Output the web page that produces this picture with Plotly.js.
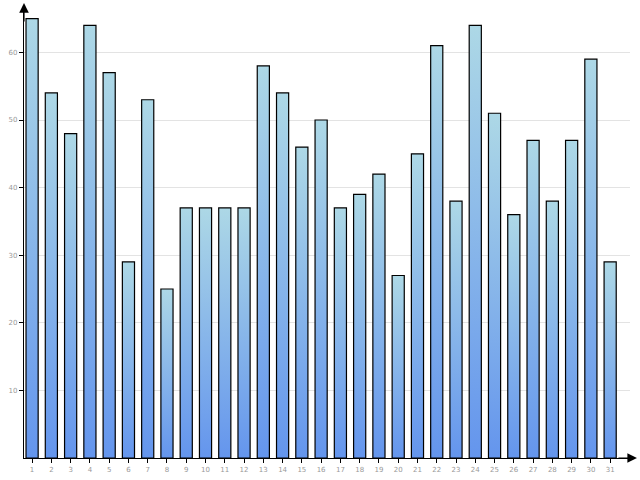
<!DOCTYPE html>
<html>
<head>
<meta charset="utf-8">
<script src="https://cdn.plot.ly/plotly-3.0.1.min.js"></script>
<style>html,body{margin:0;padding:0;background:#fff;}#chart{width:640px;height:480px;}</style>
</head>
<body>
<div id="chart"></div>
<script>
const categories = [1,2,3,4,5,6,7,8,9,10,11,12,13,14,15,16,17,18,19,20,21,22,23,24,25,26,27,28,29,30,31];
const values = [65,54,48,64,57,29,53,25,37,37,37,37,58,54,46,50,37,39,42,27,45,61,38,64,51,36,47,38,47,59,29];
const yTicks = [10,20,30,40,50,60];

const trace = {
  type: 'bar',
  x: categories,
  y: values,
  width: 0.63,
  marker: {color: '#8ab4e8', line: {color: '#000', width: 1.2}},
  hoverinfo: 'none'
};

const tickFont = {family: 'DejaVu Sans, Verdana, sans-serif', size: 7, color: '#999'};

const layout = {
  width: 640, height: 480,
  margin: {l: 24, r: 10, t: 8, b: 22},
  paper_bgcolor: '#fff', plot_bgcolor: '#fff',
  showlegend: false,
  bargap: 0.37,
  xaxis: {
    range: [0.58, 32.03],
    tickvals: categories, ticktext: categories.map(String),
    ticks: 'outside', ticklen: 4, tickcolor: '#000', tickwidth: 1,
    showgrid: false, zeroline: false,
    showline: true, linecolor: '#000', linewidth: 1.2,
    tickfont: tickFont
  },
  yaxis: {
    range: [0, 66.57],
    tickvals: yTicks, ticktext: yTicks.map(String),
    ticks: 'outside', ticklen: 4, tickcolor: '#000', tickwidth: 1,
    showgrid: true, gridcolor: '#e3e3e3', gridwidth: 1,
    zeroline: false,
    showline: true, linecolor: '#000', linewidth: 1.2,
    tickfont: tickFont
  },
  annotations: [
    {xref: 'paper', yref: 'paper', x: 0, y: 1.011, ax: 0, ay: 20, text: '', showarrow: true,
     arrowhead: 2, arrowsize: 1.6, arrowwidth: 1.2, arrowcolor: '#000'},
    {xref: 'paper', yref: 'paper', x: 1.0115, y: 0, ax: -20, ay: 0, text: '', showarrow: true,
     arrowhead: 2, arrowsize: 1.6, arrowwidth: 1.2, arrowcolor: '#000'}
  ]
};

Plotly.newPlot('chart', [trace], layout, {displayModeBar: false, staticPlot: true}).then(function(gd){
  const svgNS = 'http://www.w3.org/2000/svg';
  const svg = gd.querySelector('svg.main-svg');
  let defs = svg.querySelector('defs');
  if (!defs) { defs = document.createElementNS(svgNS, 'defs'); svg.insertBefore(defs, svg.firstChild); }
  const grad = document.createElementNS(svgNS, 'linearGradient');
  grad.setAttribute('id', 'barGrad');
  grad.setAttribute('x1', '0'); grad.setAttribute('y1', '0');
  grad.setAttribute('x2', '0'); grad.setAttribute('y2', '1');
  [['0%', '#add8e6'], ['100%', '#6495ed']].forEach(function(s){
    const st = document.createElementNS(svgNS, 'stop');
    st.setAttribute('offset', s[0]); st.setAttribute('stop-color', s[1]);
    grad.appendChild(st);
  });
  defs.appendChild(grad);
  gd.querySelectorAll('.trace.bars .point path').forEach(function(p){
    p.style.fill = 'url(#barGrad)';
    p.style.fillOpacity = 1;
  });
});
</script>
</body>
</html>
